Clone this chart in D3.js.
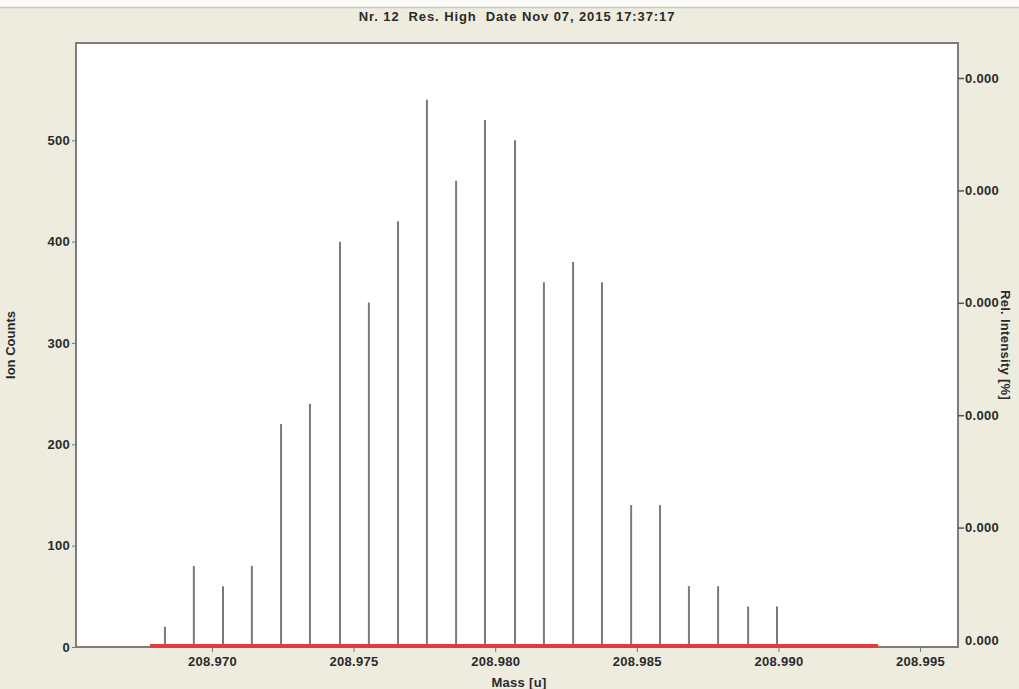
<!DOCTYPE html>
<html>
<head>
<meta charset="utf-8">
<script src="https://cdn.jsdelivr.net/npm/d3@7"></script>
<style>
  html, body { margin: 0; padding: 0; background: #eeecdf; }
  svg { display: block; }
  text { font-family: "Liberation Sans", Arial, sans-serif; font-weight: bold; fill: #2a2a2a; }
</style>
</head>
<body>
<svg id="chart" width="1019" height="689"></svg>
<script>
// Peak centroids (mass in u) and their ion counts
const masses = [
  208.96834, 208.96936, 208.97039, 208.97141, 208.97244, 208.97346,
  208.97452, 208.97554, 208.97657, 208.97759, 208.97862, 208.97964,
  208.98070, 208.98172, 208.98275, 208.98377, 208.98480, 208.98582,
  208.98684, 208.98787, 208.98893, 208.98995
];
const counts = [
  20, 80, 60, 80, 220, 240, 400, 340, 420, 540, 460, 520,
  500, 360, 380, 360, 140, 140, 60, 60, 40, 40
];
// Mass window covered by the integration range (red bar)
const rangeMasses = [208.96781, 208.99352];

const xTicks = [208.970, 208.975, 208.980, 208.985, 208.990, 208.995];
const yTicks = [0, 100, 200, 300, 400, 500];
const relTicks = [0, 1, 2, 3, 4, 5];
const relTickLabels = ["0.000", "0.000", "0.000", "0.000", "0.000", "0.000"];

const title = "Nr. 12  Res. High  Date Nov 07, 2015 17:37:17";
const xLabel = "Mass [u]";
const yLabel = "Ion Counts";
const y2Label = "Rel. Intensity [%]";

const W = 1019, H = 689;
const m = { left: 76, right: 61, top: 43, bottom: 42 };
const pw = W - m.left - m.right, ph = H - m.top - m.bottom;
const FONT = "'Liberation Sans', Arial, sans-serif";

const svg = d3.select("#chart");

// white strip and separator along the window top
svg.append("rect").attr("x", 0).attr("y", 0).attr("width", W).attr("height", 7).attr("fill", "#fbfbf7");
svg.append("line").attr("x1", 0).attr("x2", W).attr("y1", 7.5).attr("y2", 7.5)
  .attr("stroke", "#c9c8bd").attr("stroke-width", 1.5);

const x = d3.scaleLinear().domain([208.96520, 208.99634]).range([0, pw]);
const y = d3.scaleLinear().domain([0, 596]).range([ph, 0]);
const y2 = d3.scaleLinear().domain([0, 5]).range([ph - 7, 35]);

const g = svg.append("g").attr("transform", `translate(${m.left},${m.top})`);

g.append("rect").attr("width", pw).attr("height", ph).attr("fill", "#ffffff");

// stems
g.selectAll("line.stem").data(masses).join("line")
  .attr("class", "stem")
  .attr("x1", d => x(d)).attr("x2", d => x(d))
  .attr("y1", y(0)).attr("y2", (d, i) => y(counts[i]))
  .attr("stroke", "#7a7a7a").attr("stroke-width", 2);

// plot frame
g.append("rect").attr("width", pw).attr("height", ph)
  .attr("fill", "none").attr("stroke", "#7d7d7d").attr("stroke-width", 2);

// integration range
g.append("line")
  .attr("x1", x(rangeMasses[0])).attr("x2", x(rangeMasses[1]))
  .attr("y1", y(0) - 1).attr("y2", y(0) - 1)
  .attr("stroke", "#e23a3a").attr("stroke-width", 4);

function styleLabels(sel) {
  sel.selectAll("text").attr("font-size", 13).attr("fill", "#2a2a2a")
    .attr("font-family", FONT).attr("letter-spacing", 0.3);
}

// bottom axis
const xAxis = g.append("g").attr("transform", `translate(0,${ph})`)
  .call(d3.axisBottom(x).tickValues(xTicks).tickFormat(d3.format(".3f")).tickSize(5).tickPadding(5));
xAxis.select(".domain").remove();
xAxis.selectAll(".tick line").attr("stroke", "#777");
styleLabels(xAxis);

// left axis
const yAxis = g.append("g")
  .call(d3.axisLeft(y).tickValues(yTicks).tickSize(4).tickPadding(2));
yAxis.select(".domain").remove();
yAxis.selectAll(".tick line").attr("stroke", "#777");
styleLabels(yAxis);

// right axis
const y2Axis = g.append("g").attr("transform", `translate(${pw},0)`)
  .call(d3.axisRight(y2).tickValues(relTicks).tickFormat((d, i) => relTickLabels[i]).tickSize(6).tickPadding(1));
y2Axis.select(".domain").remove();
y2Axis.selectAll(".tick line").attr("stroke", "#555").attr("stroke-width", 1.5)
  .filter(d => d === 0).remove();
styleLabels(y2Axis);
y2Axis.selectAll(".tick").filter(d => d === 0).select("text").attr("x", 7);

// titles
svg.append("text").attr("x", m.left + pw / 2).attr("y", 21)
  .attr("text-anchor", "middle").attr("font-size", 13).attr("letter-spacing", 0.9)
  .style("white-space", "pre").text(title);

svg.append("text").attr("x", m.left + pw / 2 + 2).attr("y", 687)
  .attr("text-anchor", "middle").attr("font-size", 13).attr("letter-spacing", 0.3).text(xLabel);

svg.append("text")
  .attr("transform", `translate(1001,${m.top + ph / 2}) rotate(90)`)
  .attr("text-anchor", "middle").attr("font-size", 13).attr("letter-spacing", 0.3).text(y2Label);

svg.append("text")
  .attr("transform", `translate(15,${m.top + ph / 2}) rotate(-90)`)
  .attr("text-anchor", "middle").attr("font-size", 13).attr("fill", "#555").text(yLabel);
</script>
</body>
</html>
